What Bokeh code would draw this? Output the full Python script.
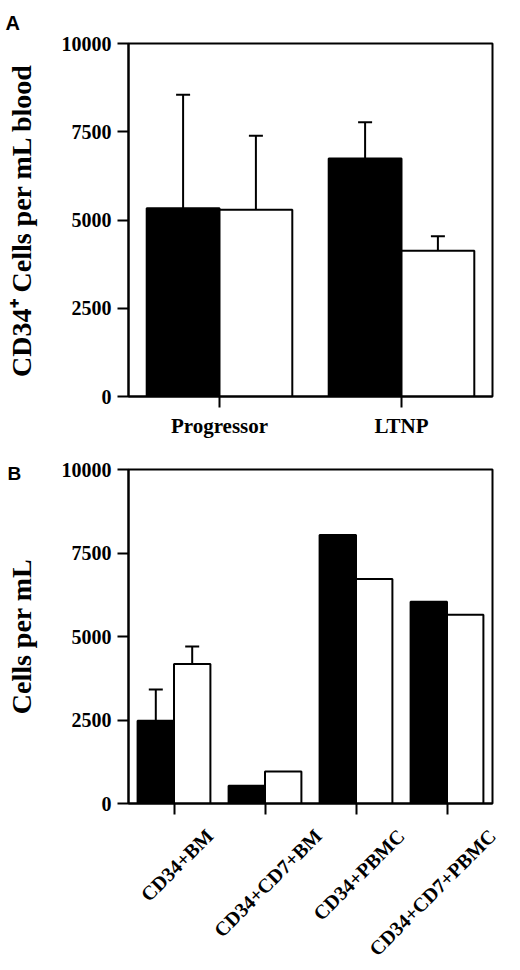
import math
from bokeh.plotting import figure
from bokeh.layouts import column
from bokeh.models import (ColumnDataSource, FactorRange, Range1d, FixedTicker,
                          Whisker, TeeHead, Title, LinearAxis)
from bokeh.transform import dodge
from bokeh.embed import file_html
from bokeh.resources import INLINE

# ---------------- data ----------------
groups_a = ["Progressor", "LTNP"]
a_black = [5330, 6740]
a_black_err = [8550, 7770]
a_white = [5290, 4130]
a_white_err = [7390, 4540]

groups_b = ["CD34+BM", "CD34+CD7+BM", "CD34+PBMC", "CD34+CD7+PBMC"]
b_black = [2480, 530, 8040, 6040]
b_white = [4180, 960, 6720, 5650]
b_black_err = [3410, None, None, None]
b_white_err = [4700, None, None, None]

y_ticks = [0, 2500, 5000, 7500, 10000]

label_a = "CD34\u207a Cells per mL blood"
label_b = "Cells per mL"

SERIF = "Liberation Serif"
SANS = "Liberation Sans"
W = 520
BAR_W = 0.4


def style(p, ylabel, standoff):
    p.xgrid.visible = False
    p.ygrid.visible = False
    p.outline_line_color = "black"
    p.outline_line_width = 2
    p.outline_line_alpha = 1
    p.background_fill_color = "white"
    p.border_fill_color = "white"
    for ax in (p.xaxis[0], p.yaxis[0]):
        ax.axis_line_color = "black"
        ax.axis_line_width = 2
        ax.major_tick_line_color = "black"
        ax.major_tick_line_width = 2
        ax.major_tick_in = 0
        ax.major_tick_out = 11
        ax.minor_tick_line_color = None
        ax.major_label_text_font = SERIF
        ax.major_label_text_font_style = "bold"
        ax.major_label_text_color = "black"
        ax.major_label_standoff = 6
    p.yaxis.ticker = FixedTicker(ticks=y_ticks)
    p.yaxis.major_label_text_font_size = "20px"
    p.yaxis.axis_label = ylabel
    p.yaxis.axis_label_text_font = SERIF
    p.yaxis.axis_label_text_font_style = "bold"
    p.yaxis.axis_label_text_font_size = "28px"
    p.yaxis.axis_label_text_color = "black"
    p.yaxis.axis_label_standoff = standoff


def bars(p, src, xb, xw):
    p.vbar(x=xb, top="black", width=BAR_W, bottom=0,
           fill_color="black", line_color="black", line_width=2, source=src)
    p.vbar(x=xw, top="white", width=BAR_W, bottom=0,
           fill_color="white", line_color="black", line_width=2, source=src)


def whiskers(p, src, xb, xw):
    for base, low, up in ((xb, "black", "black_err"), (xw, "white", "white_err")):
        w = Whisker(base=base, lower=low, upper=up,
                    source=src, dimension="height", lower_head=None,
                    upper_head=TeeHead(size=14, line_width=2, line_color="black"),
                    line_color="black", line_width=2, level="overlay")
        p.add_layout(w)


def panel_title(p, text, size, offset, standoff, valign):
    p.title = Title(text=text, align="left", offset=offset, text_font=SANS,
                    text_font_style="bold", text_font_size=size,
                    text_color="black", standoff=standoff, vertical_align=valign)


# ---------------- panel A ----------------
A_LEFT, A_RIGHT, A_TOP, A_BOTTOM, A_H = 128, 28, 43, 44, 440
xr_a = FactorRange(factors=groups_a)
pA = figure(x_range=xr_a, y_range=Range1d(0, 10000), width=W, height=A_H,
            min_border_left=A_LEFT, min_border_right=A_RIGHT, min_border_top=A_TOP,
            min_border_bottom=A_BOTTOM, output_backend="svg", toolbar_location=None,
            tools="")
style(pA, label_a, 22)
pA.xaxis.major_label_text_font_size = "21px"
srcA = ColumnDataSource(dict(group=groups_a, black=a_black, white=a_white,
                             black_err=a_black_err, white_err=a_white_err))
xa_b = dodge("group", -BAR_W / 2, range=xr_a)
xa_w = dodge("group", BAR_W / 2, range=xr_a)
bars(pA, srcA, xa_b, xa_w)
whiskers(pA, srcA, xa_b, xa_w)
panel_title(pA, "A", "20px", 5 - A_LEFT, 16, "top")

# ---------------- panel B ----------------
B_LEFT, B_RIGHT, B_TOP, B_BOTTOM, B_H = 126, 28, 29, 161, 530
n = len(groups_b)
centers = [i + 0.5 for i in range(n)]
pB = figure(x_range=Range1d(0, n), y_range=Range1d(0, 10000), width=W, height=B_H,
            min_border_left=B_LEFT, min_border_right=B_RIGHT, min_border_top=B_TOP,
            min_border_bottom=B_BOTTOM, output_backend="svg", toolbar_location=None,
            tools="")
style(pB, label_b, 22)
# tick axis: ticks at the group centres, names carried by a second axis below
pB.xaxis.ticker = FixedTicker(ticks=centers)
pB.xaxis.major_label_text_font_size = "0px"
pB.xaxis.major_label_text_color = None
pB.xaxis.major_label_standoff = 0
srcB = ColumnDataSource(dict(group=groups_b, black=b_black, white=b_white,
                             xb=[c - BAR_W / 2 for c in centers],
                             xw=[c + BAR_W / 2 for c in centers]))
bars(pB, srcB, "xb", "xw")
idx = [i for i, v in enumerate(b_black_err) if v is not None]
srcBe = ColumnDataSource(dict(black=[b_black[i] for i in idx],
                              white=[b_white[i] for i in idx],
                              black_err=[b_black_err[i] for i in idx],
                              white_err=[b_white_err[i] for i in idx],
                              xb=[centers[i] - BAR_W / 2 for i in idx],
                              xw=[centers[i] + BAR_W / 2 for i in idx]))
whiskers(pB, srcBe, "xb", "xw")
panel_title(pB, "B", "19px", 5 - B_LEFT, -28, "bottom")

# label axis: rotated category names centred under their ticks
TB = {"C": .722, "D": .722, "3": .5, "4": .5, "7": .5, "+": .57,
      "B": .667, "M": .944, "P": .611}
fs = 20
px_per_unit = (W - B_LEFT - B_RIGHT) / n
lab_pos = []
for c, g in zip(centers, groups_b):
    wpx = sum(TB.get(ch, .6) for ch in g) * fs
    pos = c + (3 + 0.354 * wpx) / px_per_unit
    lab_pos.append(round(min(pos, n - 0.002), 4))
lab_axis = LinearAxis(ticker=FixedTicker(ticks=lab_pos),
                      major_label_overrides={p_: g for p_, g in zip(lab_pos, groups_b)},
                      major_label_orientation=math.pi / 4,
                      axis_line_color=None, major_tick_line_color=None,
                      minor_tick_line_color=None, major_tick_in=0, major_tick_out=0,
                      major_label_standoff=18, major_label_text_font=SERIF,
                      major_label_text_font_style="bold",
                      major_label_text_font_size="20px",
                      major_label_text_color="black")
pB.add_layout(lab_axis, "below")

layout = column(pA, pB)
open("out.html", "w").write(file_html(layout, INLINE))
